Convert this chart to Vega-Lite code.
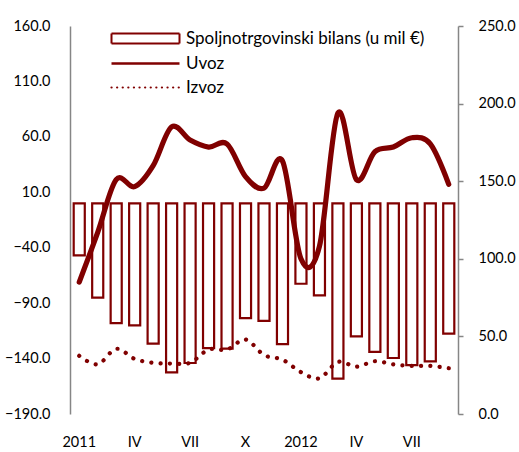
{
  "$schema": "https://vega.github.io/schema/vega-lite/v6.json",
  "width": 388,
  "height": 388,
  "autosize": {"type": "none"},
  "padding": {"left": 70, "top": 26, "right": 61, "bottom": 38},
  "background": "white",
  "config": {
    "view": {"stroke": null},
    "font": "Lato",
    "axis": {"labelFont": "Lato", "labelFontSize": 14.5, "labelColor": "#000000", "grid": false, "title": null},
    "legend": {
      "title": null,
      "orient": "none",
      "legendX": 38,
      "legendY": 4,
      "padding": 0,
      "labelFont": "Lato",
      "labelFontSize": 17,
      "labelColor": "#000000",
      "labelLimit": 0,
      "labelOffset": 61,
      "symbolSize": 100,
      "rowPadding": 6
    }
  },
  "data": {
    "values": [
      {"m": 0, "bilans": -47, "uvoz": 85, "izvoz": 37.5},
      {"m": 1, "bilans": -85, "uvoz": 117, "izvoz": 32},
      {"m": 2, "bilans": -108, "uvoz": 151, "izvoz": 42},
      {"m": 3, "bilans": -110, "uvoz": 146.5, "izvoz": 35.5},
      {"m": 4, "bilans": -126.5, "uvoz": 160, "izvoz": 33},
      {"m": 5, "bilans": -152.5, "uvoz": 185, "izvoz": 32.5},
      {"m": 6, "bilans": -144, "uvoz": 176.5, "izvoz": 33},
      {"m": 7, "bilans": -130.5, "uvoz": 172, "izvoz": 41.5},
      {"m": 8, "bilans": -131, "uvoz": 174, "izvoz": 41.5},
      {"m": 9, "bilans": -103.5, "uvoz": 153, "izvoz": 48},
      {"m": 10, "bilans": -106, "uvoz": 145.5, "izvoz": 38},
      {"m": 11, "bilans": -127, "uvoz": 163, "izvoz": 35},
      {"m": 12, "bilans": -72.5, "uvoz": 100, "izvoz": 27},
      {"m": 13, "bilans": -83, "uvoz": 108, "izvoz": 23},
      {"m": 14, "bilans": -158, "uvoz": 194, "izvoz": 33.5},
      {"m": 15, "bilans": -120, "uvoz": 151, "izvoz": 30.5},
      {"m": 16, "bilans": -134, "uvoz": 169, "izvoz": 34},
      {"m": 17, "bilans": -139.5, "uvoz": 172, "izvoz": 32},
      {"m": 18, "bilans": -146, "uvoz": 178, "izvoz": 31},
      {"m": 19, "bilans": -142.5, "uvoz": 174, "izvoz": 31},
      {"m": 20, "bilans": -117.5, "uvoz": 148, "izvoz": 29.5}
    ]
  },
  "encoding": {
    "x": {
      "field": "m",
      "type": "ordinal",
      "scale": {"paddingInner": 0.4, "paddingOuter": 0.2},
      "axis": {
        "values": [0, 3, 6, 9, 12, 15, 18],
        "labelExpr": "datum.value == 0 ? '2011' : datum.value == 3 ? 'IV' : datum.value == 6 ? 'VII' : datum.value == 9 ? 'X' : datum.value == 12 ? '2012' : datum.value == 15 ? 'IV' : 'VII'",
        "labelAngle": 0,
        "domain": false,
        "ticks": false,
        "labelPadding": 21,
        "labelOverlap": false,
        "title": null
      }
    }
  },
  "layer": [
    {
      "layer": [
        {
          "mark": {"type": "rule", "color": "#a6a6a6", "strokeWidth": 2},
          "encoding": {"y": {"datum": 0, "type": "quantitative"}}
        },
        {
          "mark": {"type": "bar", "fill": "#ffffff", "strokeWidth": 2.2},
          "encoding": {
            "y": {
              "field": "bilans",
              "type": "quantitative",
              "scale": {"domain": [-190, 160], "nice": false, "zero": false},
              "axis": {
                "orient": "left",
                "values": [-190, -140, -90, -40, 10, 60, 110, 160],
                "format": ".1f",
                "ticks": false,
                "domainColor": "#868686",
                "domainWidth": 1.5,
                "labelPadding": 20,
                "title": null
              }
            },
            "y2": {"datum": 0},
            "stroke": {
              "datum": "Spoljnotrgovinski bilans (u mil €)",
              "type": "nominal",
              "scale": {
                "domain": ["Spoljnotrgovinski bilans (u mil €)", "Uvoz", "Izvoz"],
                "range": ["#800000", "#800000", "#800000"]
              },
              "legend": {
                "encode": {
                  "symbols": {
                    "update": {
                      "shape": {"signal": "datum.index === 0 ? 'M-1,-1H12.6V1H-1Z' : 'M-1,0H12.6'"},
                      "fill": {"signal": "datum.index === 0 ? '#ffffff' : 'transparent'"},
                      "stroke": {"value": "#800000"},
                      "strokeWidth": {"signal": "datum.index === 0 ? 2 : (datum.index === 1 ? 2.7 : 2.2)"},
                      "strokeDash": {"signal": "datum.index === 2 ? [0.1, 5.5] : [1, 0]"},
                      "strokeCap": {"signal": "datum.index === 2 ? 'round' : 'butt'"},
                      "opacity": {"value": 1}
                    }
                  }
                }
              }
            }
          }
        }
      ]
    },
    {
      "layer": [
        {
          "mark": {"type": "line", "interpolate": "cardinal", "strokeWidth": 5.2, "strokeCap": "round"},
          "encoding": {
            "y": {
              "field": "uvoz",
              "type": "quantitative",
              "scale": {"domain": [0, 250], "nice": false},
              "axis": {
                "orient": "right",
                "values": [0, 50, 100, 150, 200, 250],
                "format": ".1f",
                "ticks": true,
                "tickSize": 5,
                "tickColor": "#868686",
                "tickWidth": 1.5,
                "domainColor": "#868686",
                "domainWidth": 1.5,
                "labelPadding": 15,
                "title": null
              }
            },
            "stroke": {
              "datum": "Uvoz",
              "type": "nominal",
              "legend": {
                "encode": {
                  "symbols": {
                    "update": {
                      "shape": {"signal": "datum.index === 0 ? 'M-1,-1H12.6V1H-1Z' : 'M-1,0H12.6'"},
                      "fill": {"signal": "datum.index === 0 ? '#ffffff' : 'transparent'"},
                      "stroke": {"value": "#800000"},
                      "strokeWidth": {"signal": "datum.index === 0 ? 2 : (datum.index === 1 ? 2.7 : 2.2)"},
                      "strokeDash": {"signal": "datum.index === 2 ? [0.1, 5.5] : [1, 0]"},
                      "strokeCap": {"signal": "datum.index === 2 ? 'round' : 'butt'"},
                      "opacity": {"value": 1}
                    }
                  }
                }
              }
            }
          }
        },
        {
          "mark": {"type": "line", "interpolate": "cardinal", "strokeWidth": 4.2, "strokeCap": "round", "strokeDash": [0.1, 9.2]},
          "encoding": {
            "y": {"field": "izvoz", "type": "quantitative"},
            "stroke": {
              "datum": "Izvoz",
              "type": "nominal",
              "legend": {
                "encode": {
                  "symbols": {
                    "update": {
                      "shape": {"signal": "datum.index === 0 ? 'M-1,-1H12.6V1H-1Z' : 'M-1,0H12.6'"},
                      "fill": {"signal": "datum.index === 0 ? '#ffffff' : 'transparent'"},
                      "stroke": {"value": "#800000"},
                      "strokeWidth": {"signal": "datum.index === 0 ? 2 : (datum.index === 1 ? 2.7 : 2.2)"},
                      "strokeDash": {"signal": "datum.index === 2 ? [0.1, 5.5] : [1, 0]"},
                      "strokeCap": {"signal": "datum.index === 2 ? 'round' : 'butt'"},
                      "opacity": {"value": 1}
                    }
                  }
                }
              }
            }
          }
        }
      ]
    }
  ],
  "resolve": {"scale": {"y": "independent"}}
}
